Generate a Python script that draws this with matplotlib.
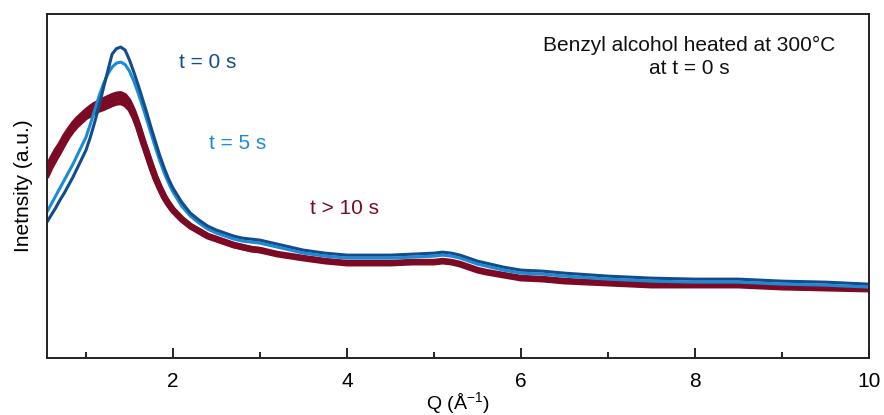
import matplotlib
matplotlib.use("Agg")
import matplotlib.pyplot as plt
from matplotlib.ticker import MultipleLocator

plt.rcParams['font.family'] = ['Liberation Sans', 'DejaVu Sans']
plt.rcParams['mathtext.fontset'] = 'custom'
plt.rcParams['mathtext.rm'] = 'Liberation Sans'
plt.rcParams['mathtext.it'] = 'Liberation Sans'

# Q values (1/Angstrom)
q = [0.55, 0.6, 0.65, 0.7, 0.75, 0.8, 0.85, 0.9, 0.95, 1.0,
     1.05, 1.1, 1.15, 1.2, 1.25, 1.3, 1.35, 1.4, 1.45, 1.5,
     1.55, 1.6, 1.65, 1.7, 1.75, 1.8, 1.85, 1.9, 1.95, 2.0,
     2.1, 2.2, 2.3, 2.4, 2.5, 2.6, 2.7, 2.8, 2.9, 3.0,
     3.1, 3.2, 3.35, 3.5, 3.75, 4.0, 4.25, 4.5, 4.75, 5.0,
     5.1, 5.2, 5.3, 5.4, 5.5, 5.6, 5.8, 6.0, 6.25, 6.5,
     7.0, 7.5, 8.0, 8.5, 9.0, 9.5, 10.0]

# intensities (a.u.)
i_t0 = [136, 143, 150, 158, 165, 173, 181, 190, 199, 208,
        221, 236, 252, 270, 287, 304, 309.5, 311, 308, 298,
        286, 273, 259, 245, 230, 216, 202, 190, 179, 170,
        156, 145, 138, 132, 128, 125, 122, 120, 119, 118,
        116, 114, 111, 108, 105, 103, 103, 103, 104, 105,
        106, 105, 103, 100, 97, 95, 91, 88, 87, 85,
        82, 80, 79, 79, 77, 76, 74]
i_t5 = [146, 154, 162, 170, 178, 186, 194, 203, 212, 221,
        234, 248, 262, 274, 284, 291, 295, 296, 293.5, 287,
        277, 265, 252, 238, 224, 210, 197, 185, 175, 166,
        152, 142, 135, 129, 125, 122, 119, 117, 116, 115,
        113, 111, 108, 105, 102, 100, 100, 100, 101, 102,
        103, 102, 100, 97, 94, 92, 88, 85, 84, 82,
        79, 77, 76, 76, 74, 73, 71]
# t > 10 s: central trace and the upper / lower edges of the bundle
i_late = [186, 195, 203, 210, 218, 225, 231, 236, 240, 244,
          247, 250, 252, 254, 256, 258, 259.5, 260, 258, 253,
          244, 232, 218, 205, 192, 180, 170, 161, 154, 148,
          139, 132, 127, 122, 119, 116, 113, 111, 109, 108,
          106, 104, 102, 100, 97, 95, 95, 95, 96, 96,
          97, 96, 94, 91, 88, 86, 83, 80, 79, 77,
          75, 73, 73, 73, 71, 70, 69]
i_late_hi = [191.5, 200, 208, 214.5, 222.5, 229, 235, 240, 244, 248,
             251.5, 254.5, 256.5, 259, 261, 263, 264.5, 265, 263, 257.5,
             248, 235.5, 221, 208, 195, 182.5, 172, 163, 155.5, 149.5,
             140, 133, 128, 123, 120, 117, 114, 112, 110, 109,
             106.5, 104.5, 102.5, 100.5, 97.5, 95.5, 95.5, 95.5, 96.5, 96.5,
             97.5, 96.5, 94.5, 91.5, 88.5, 86.5, 83.5, 80.5, 79.5, 77.5,
             75.5, 73.5, 73.5, 73.5, 71.5, 70.5, 69.5]
i_late_lo = [180.5, 190, 198, 205.5, 213.5, 221, 227, 232, 236, 240,
             242.5, 245.5, 247.5, 249, 251, 253, 254.5, 255, 253, 248.5,
             240, 228.5, 215, 202, 189, 177.5, 168, 159, 152.5, 146.5,
             138, 131, 126, 121, 118, 115, 112, 110, 108, 107,
             105.5, 103.5, 101.5, 99.5, 96.5, 94.5, 94.5, 94.5, 95.5, 95.5,
             96.5, 95.5, 93.5, 90.5, 87.5, 85.5, 82.5, 79.5, 78.5, 76.5,
             74.5, 72.5, 72.5, 72.5, 70.5, 69.5, 68.5]

c_dark = '#124c8c'
c_light = '#1b8bd6'
c_red = '#7d0a24'

fig = plt.figure(figsize=(8.84, 4.15), dpi=100)
ax = fig.add_axes([0.053, 0.137, 0.93, 0.829])

kw = dict(solid_capstyle='butt', solid_joinstyle='round')
ax.plot(q, i_late_hi, color=c_red, lw=3.0, **kw)
ax.plot(q, i_late_lo, color=c_red, lw=3.0, **kw)
ax.plot(q, i_late, color=c_red, lw=4.8, **kw)
ax.plot(q, i_t5, color=c_light, lw=2.2, **kw)
ax.plot(q, i_t0, color=c_dark, lw=2.2, **kw)

ax.set_xlim(0.55, 10)
ax.set_ylim(0, 344)
ax.set_yticks([])
ax.xaxis.set_major_locator(MultipleLocator(2))
ax.xaxis.set_minor_locator(MultipleLocator(1))
ax.tick_params(axis='x', which='major', direction='in', length=7, width=1.2,
               labelsize=15, pad=10, top=False)
ax.tick_params(axis='x', which='minor', direction='in', length=4.5, width=1.2, top=False)
for s in ax.spines.values():
    s.set_linewidth(1.4)
    s.set_color('#222222')

ax.set_xlabel('Q (Å$^{-1}$)', fontsize=14, labelpad=-1)
ax.set_ylabel('Inetnsity (a.u.)', fontsize=15, labelpad=10)

ax.text(2.40, 296, 't = 0 s', color=c_dark, fontsize=15, ha='center', va='center')
ax.text(2.74, 215, 't = 5 s', color=c_light, fontsize=15, ha='center', va='center')
ax.text(3.97, 150, 't > 10 s', color=c_red, fontsize=15, ha='center', va='center')
ax.text(7.93, 301.5, 'Benzyl alcohol heated at 300°C\nat t = 0 s', color='#111111',
        fontsize=15, ha='center', va='center', linespacing=1.25)

fig.savefig('out.png', dpi=100)
